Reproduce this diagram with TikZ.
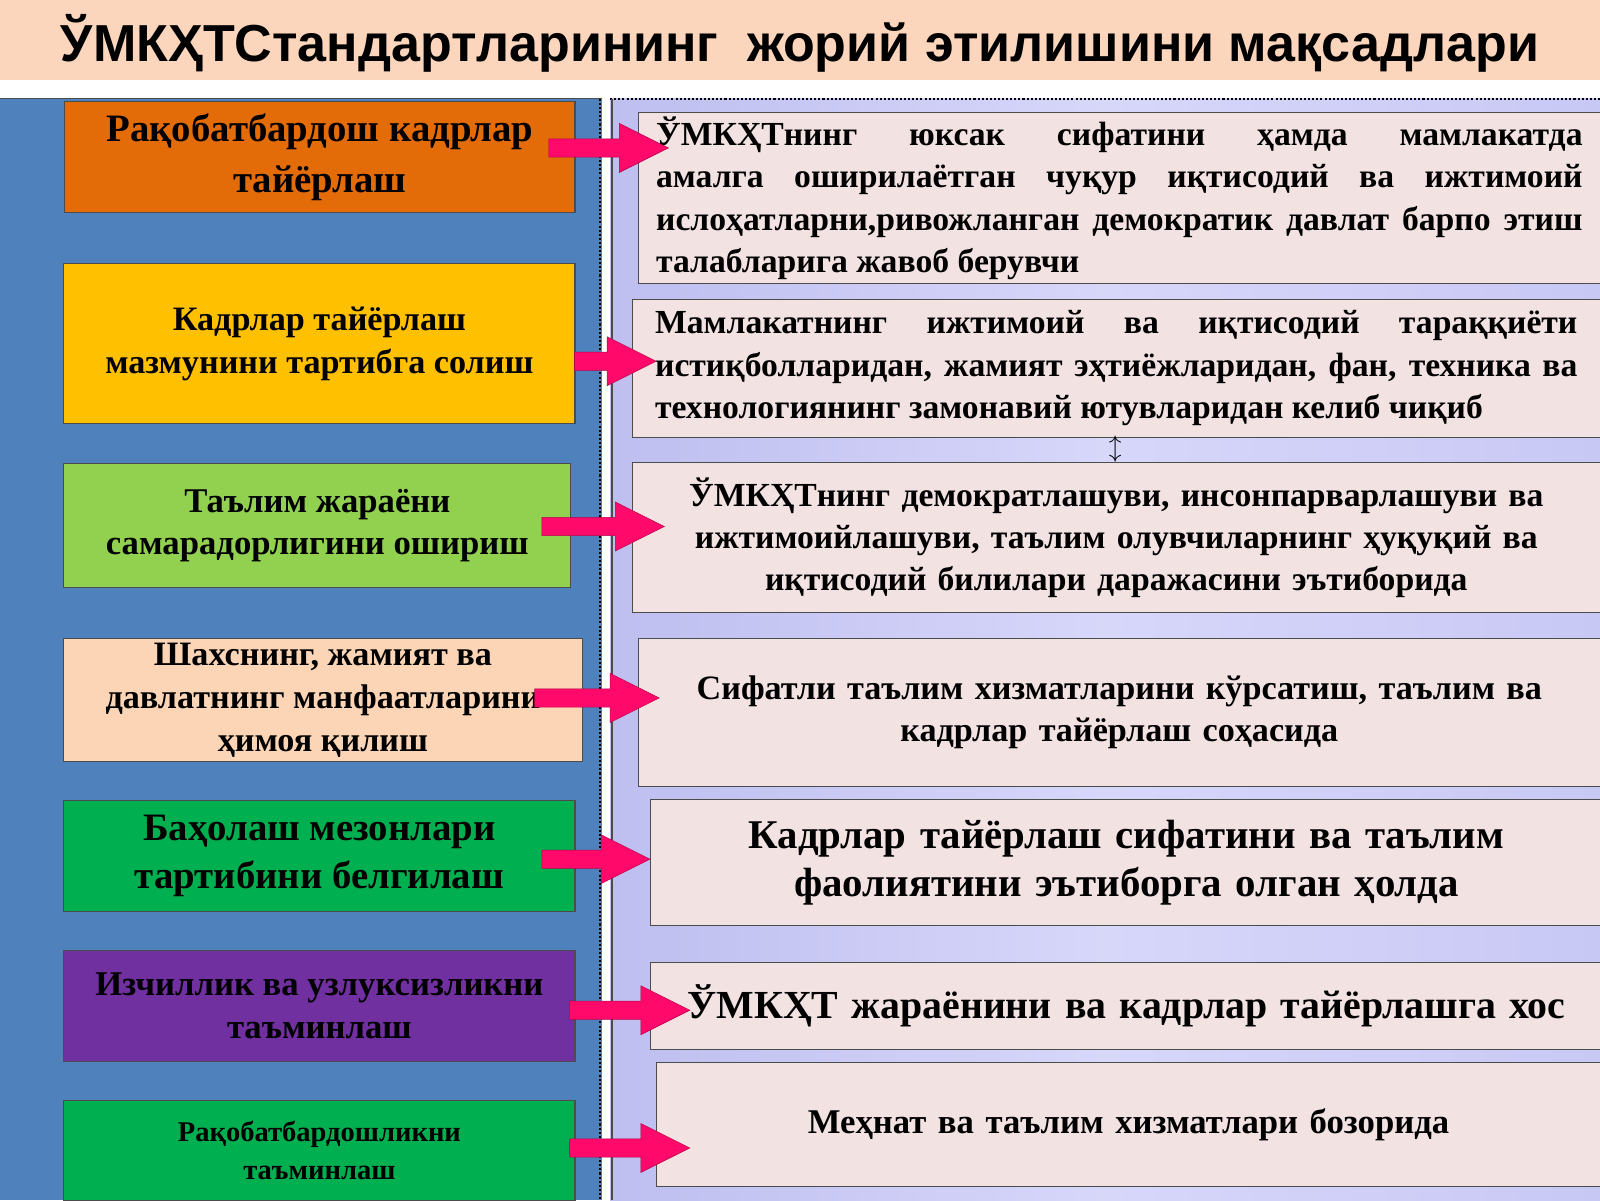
\documentclass[tikz,border=0pt]{standalone}
\usepackage{fontspec}
\setmainfont{Liberation Serif}
\newfontfamily\ttl{Liberation Sans}
\newcommand{\parrow}[4]{% name, x1, x2, y
 \coordinate (#1s) at (#2,#4); \coordinate (#1e) at (#3,#4);
 \filldraw[fill=arrowpink,draw=arrowpink!70!black,line width=.5pt]
 (#2,#4-9) -- (#3-48,#4-9) -- (#3-48,#4-24) -- (#3,#4) -- (#3-48,#4+24) -- (#3-48,#4+9) -- (#2,#4+9) -- cycle;}
\begin{document}
\begin{tikzpicture}[x=1pt,y=-1pt,
 lb/.style={draw=black!70,line width=1pt,anchor=north west,align=center,font=\bfseries,inner sep=2pt},
 rb/.style={draw=black!70,line width=1pt,anchor=north west,fill=pinkbg,font=\bfseries,inner sep=4pt}]
\definecolor{pinkbg}{HTML}{F2E2E2}
\definecolor{arrowpink}{HTML}{FF0A6A}
\useasboundingbox (0,0) rectangle (1568,1176);
\fill[white] (0,0) rectangle (1568,1176);
\fill[color={rgb,255:red,251;green,214;blue,188}] (0,0) rectangle (1568,78);
\node[font=\ttl\bfseries\fontsize{51}{56}\selectfont] (title) at (784,42) {ЎМКҲТСтандартларининг\ \ жорий этилишини мақсадлари};
\shade[left color={rgb,255:red,190;green,190;blue,240},right color={rgb,255:red,200;green,200;blue,245},middle color={rgb,255:red,215;green,215;blue,250}] (598,97) rectangle (1568,1176);
\fill[color={rgb,255:red,79;green,129;blue,189}] (0,97) rectangle (590,1176);
\draw[black!70,line width=1pt] (0,97) -- (590,97);
\draw[black,line width=2pt,dotted] (588,97) -- (588,1176);
\draw[black,line width=2pt,dotted] (598,97) -- (1568,97);
\draw[black!70,line width=2pt] (600,97) -- (600,1176);
% left boxes
\node[lb,fill={rgb,255:red,227;green,108;blue,9},minimum width=500pt,minimum height=109pt,font=\bfseries\fontsize{38}{50}\selectfont] (l1) at (63,99) {Рақобатбардош кадрлар\\тайёрлаш};
\node[lb,fill={rgb,255:red,255;green,192;blue,0},minimum width=501pt,minimum height=157pt,font=\bfseries\fontsize{33.5}{42}\selectfont] (l2) at (62,258) {Кадрлар тайёрлаш\\мазмунини тартибга солиш};
\node[lb,fill={rgb,255:red,146;green,208;blue,80},minimum width=497pt,minimum height=121pt,font=\bfseries\fontsize{34}{42}\selectfont] (l3) at (62,454) {Таълим жараёни\\самарадорлигини ошириш};
\node[lb,fill={rgb,255:red,251;green,213;blue,181},minimum width=508pt,minimum height=121pt,font=\bfseries\fontsize{33.5}{42}\selectfont] (l4) at (62,625) {Шахснинг, жамият ва\\давлатнинг манфаатларини\\ҳимоя қилиш};
\node[lb,fill={rgb,255:red,0;green,176;blue,80},minimum width=501pt,minimum height=109pt,font=\bfseries\fontsize{38}{47}\selectfont] (l5) at (62,784) {Баҳолаш мезонлари\\тартибини белгилаш};
\node[lb,fill={rgb,255:red,112;green,48;blue,160},minimum width=501pt,minimum height=109pt,font=\bfseries\fontsize{34}{42}\selectfont] (l6) at (62,931) {Изчиллик ва узлуксизликни\\таъминлаш};
\node[lb,fill={rgb,255:red,0;green,176;blue,80},minimum width=501pt,minimum height=98pt,font=\bfseries\fontsize{28}{37}\selectfont] (l7) at (62,1078) {Рақобатбардошликни\\таъминлаш};
% right boxes
\node[rb,minimum width=943pt,minimum height=158pt,text width=908pt,align=justify,font=\bfseries\fontsize{33}{41.5}\selectfont] (r1) at (625,110) {ЎМКҲТнинг юксак сифатини ҳамда мамлакатда амалга оширилаётган чуқур иқтисодий ва ижтимоий ислоҳатларни,ривожланган демократик давлат барпо этиш талабларига жавоб берувчи};
\node[rb,minimum width=949pt,minimum height=135pt,text width=904pt,align=justify,font=\bfseries\fontsize{33}{41.5}\selectfont] (r2) at (619,293) {Мамлакатнинг ижтимоий ва иқтисодий тараққиёти истиқболларидан, жамият эҳтиёжларидан, фан, техника ва технологиянинг замонавий ютувларидан келиб чиқиб};
\node[rb,minimum width=949pt,minimum height=147pt,text width=930pt,align=center,font=\bfseries\fontsize{33}{41.5}\selectfont] (r3) at (619,453) {ЎМКҲТнинг демократлашуви, инсонпарварлашуви ва\\ижтимоийлашуви, таълим олувчиларнинг ҳуқуқий ва\\иқтисодий билилари даражасини эътиборида};
\node[rb,minimum width=943pt,minimum height=145pt,text width=930pt,align=center,font=\bfseries\fontsize{33.5}{42}\selectfont] (r4) at (625,625) {Сифатли таълим хизматларини кўрсатиш, таълим ва\\кадрлар тайёрлаш соҳасида};
\node[rb,minimum width=931pt,minimum height=123pt,text width=925pt,align=center,font=\bfseries\fontsize{40}{47}\selectfont] (r5) at (637,783) {Кадрлар тайёрлаш сифатини ва таълим\\фаолиятини эътиборга олган ҳолда};
\node[rb,minimum width=931pt,minimum height=85pt,text width=925pt,align=center,font=\bfseries\fontsize{39}{47}\selectfont] (r6) at (637,943) {ЎМКҲТ жараёнини ва кадрлар тайёрлашга хос};
\node[rb,minimum width=925pt,minimum height=121pt,text width=910pt,align=center,font=\bfseries\fontsize{34}{42}\selectfont] (r7) at (643,1041) {Меҳнат ва таълим хизматлари бозорида};
\node[font=\fontsize{24}{24}\selectfont] (ud) at (1093,440) {$\updownarrow$};
% arrows
\parrow{a1}{538}{655}{145}
\parrow{a2}{563}{643}{354}
\parrow{a3}{531}{651}{516}
\parrow{a4}{524}{646}{684}
\parrow{a5}{531}{637}{842}
\parrow{a6}{558}{676}{990}
\parrow{a7}{558}{676}{1125}
\end{tikzpicture}
\end{document}
